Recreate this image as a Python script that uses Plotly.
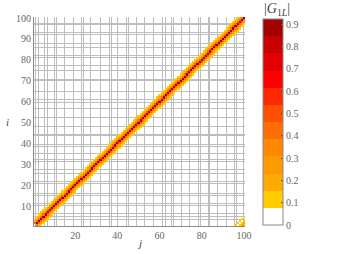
import numpy as np
import plotly.graph_objects as go

N = 100
# |G_1L| profile by distance from the diagonal (|j - i| = 0,1,2,...)
diag_profile = [0.90, 0.42, 0.21, 0.12, 0.05]
# wrap-around values in the lower-right corner, by k = 100 - (j - i)
corner_profile = [0.22, 0.16, 0.12, 0.05, 0.09]
first_diag_value = 0.0

# irregular grid line positions (data units)
x_grid = [1.4, 2.4, 5.7, 6.8, 10.4, 11.1, 14.9, 19.1, 23.1, 23.9, 27.5, 31.8, 36.2, 37.0,
          40.2, 44.4, 45.4, 49.2, 53.1, 57.0, 61.5, 62.6, 65.8, 66.5, 70.5, 74.1, 78.4,
          79.2, 83.1, 83.9, 87.4, 91.5, 95.4, 96.6, 99.7]
y_grid = [3.4, 5.0, 6.6, 10.5, 11.4, 15.3, 16.1, 20.9, 21.7, 25.7, 27.3, 31.3, 32.1, 35.3,
          38.4, 39.3, 43.6, 44.5, 48.3, 52.4, 56.5, 59.5, 60.8, 64.8, 70.0, 70.8, 75.1,
          77.5, 81.2, 82.0, 85.8, 87.9, 91.9, 93.0, 96.7, 97.5]

x_ticks = [20, 40, 60, 80, 100]
y_ticks = [10, 20, 30, 40, 50, 60, 70, 80, 90, 100]
cbar_ticks = [0, 0.1, 0.2, 0.3, 0.4, 0.5, 0.6, 0.7, 0.8, 0.9]

band_colors = ["rgba(255,255,255,0)", "#FFCC00", "#FFAA00", "#FF9900", "#FF8800", "#FF6E00",
               "#FF5000", "#FF2800", "#FF0000", "#E40000", "#C80000", "#A50000"]
zmax = 0.924

idx = np.arange(1, N + 1)
I, J = np.meshgrid(idx, idx, indexing="ij")
D = np.abs(J - I)
Z = np.full((N, N), np.nan)
for d, v in enumerate(diag_profile):
    Z[D == d] = v
for k, v in enumerate(corner_profile, start=1):
    Z[(J - I) == N - k] = v
Z[0, 0] = first_diag_value

nb = len(band_colors)
colorscale = []
for b, c in enumerate(band_colors):
    colorscale.append([b / nb, c])
    colorscale.append([(b + 1) / nb, c])

gray = "#666666"
serif = "Liberation Serif"

fig = go.Figure(go.Heatmap(
    x=idx, y=idx, z=Z, zmin=0, zmax=zmax, colorscale=colorscale,
    hoverongaps=False,
    colorbar=dict(
        x=1.085, xanchor="left", y=0.4976, yanchor="middle", len=0.986, lenmode="fraction",
        thickness=20, outlinecolor="#888888", outlinewidth=1,
        tickvals=cbar_ticks, ticks="inside", ticklen=2, tickcolor="#555555",
        tickfont=dict(family=serif, size=10, color=gray), ypad=0, xpad=0,
    ),
))

fig.update_layout(
    width=339, height=254,
    margin=dict(l=34, r=94, t=17, b=28),
    paper_bgcolor="white", plot_bgcolor="white",
    showlegend=False,
    xaxis=dict(range=[0.5, 100.5], tickvals=x_ticks, showgrid=False, zeroline=False,
               showline=True, linecolor="#888888", linewidth=1, ticks="",
               tickfont=dict(family=serif, size=10, color=gray),
               minor=dict(tickmode="array", tickvals=x_grid, showgrid=True,
                          gridcolor="#bdbdbd", gridwidth=1, ticks="")),
    yaxis=dict(range=[0.5, 100.5], tickvals=y_ticks, showgrid=False, zeroline=False,
               showline=True, linecolor="#888888", linewidth=1, ticks="",
               tickfont=dict(family=serif, size=10, color=gray),
               minor=dict(tickmode="array", tickvals=y_grid, showgrid=True,
                          gridcolor="#bdbdbd", gridwidth=1, ticks="")),
    annotations=[
        dict(text="<i>j</i>", x=0.5, y=-0.12, xref="paper", yref="paper", showarrow=False,
             font=dict(family=serif, size=11, color="#444444")),
        dict(text="<i>i</i>", x=-0.142, y=0.5, xref="paper", yref="paper", showarrow=False,
             font=dict(family=serif, size=11, color="#444444")),
        dict(text="|<i>G</i><sub>1<i>L</i></sub>|", x=1.15, y=1.035, xref="paper", yref="paper",
             showarrow=False, xanchor="center", yanchor="middle",
             font=dict(family=serif, size=14, color="#444444")),
    ],
)

fig.write_html("out.html", config={"displayModeBar": False},
               post_script="document.body.style.margin='0';")
